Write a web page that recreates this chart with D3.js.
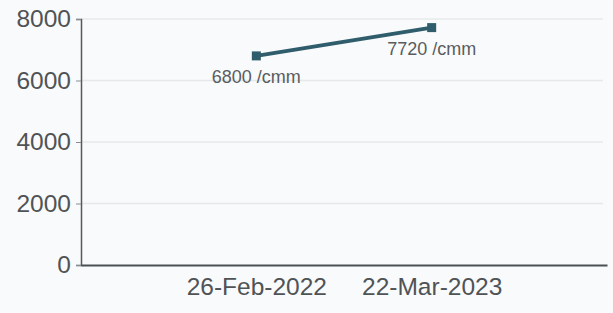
<!DOCTYPE html>
<html lang="en">
<head>
<meta charset="UTF-8">
<script src="https://d3js.org/d3.v7.min.js"></script>
<style>
  html, body { margin: 0; padding: 0; background: #f9fafb; }
  svg { display: block; font-family: "Liberation Sans", Arial, sans-serif; }
</style>
</head>
<body>
<div id="chart"></div>
<script>
// values
var dates = ["26-Feb-2022", "22-Mar-2023"];
var counts = [6800, 7720];
var pointLabels = ["6800 /cmm", "7720 /cmm"];
var yTicks = [0, 2000, 4000, 6000, 8000];

var W = 613, H = 313;
var margin = {left: 81, right: 607, top: 19, bottom: 265};

var svg = d3.select("#chart").append("svg")
  .attr("width", W)
  .attr("height", H);

var x = d3.scalePoint()
  .domain(dates)
  .range([margin.left, margin.right])
  .padding(1);

var y = d3.scaleLinear()
  .domain([0, 8000])
  .range([margin.bottom, margin.top]);

// faint gridlines
svg.append("g")
  .selectAll("line")
  .data(yTicks.filter(function(d) { return d > 0; }))
  .enter()
  .append("line")
  .attr("x1", margin.left)
  .attr("x2", margin.right - 4)
  .attr("y1", function(d) { return y(d); })
  .attr("y2", function(d) { return y(d); })
  .attr("stroke", "#e6e8ea")
  .attr("stroke-width", 1.5);

// y axis
var yAxis = svg.append("g")
  .attr("transform", "translate(" + margin.left + ",0)")
  .call(d3.axisLeft(y).tickValues(yTicks).tickSize(5).tickPadding(5).tickFormat(d3.format("d")));
yAxis.select(".domain").attr("stroke", "#55595c").attr("stroke-width", 1.5);
yAxis.selectAll(".tick line").attr("stroke", "#8a8d90");
yAxis.selectAll("text")
  .attr("fill", "#505356")
  .style("font-size", "24.5px")
  .style("font-family", "'Liberation Sans', Arial, sans-serif");

// x axis
var xAxis = svg.append("g")
  .attr("transform", "translate(0," + margin.bottom + ")")
  .call(d3.axisBottom(x).tickSize(0).tickPadding(13));
xAxis.select(".domain").attr("stroke", "#4a4f53").attr("stroke-width", 2);
xAxis.selectAll("text")
  .attr("fill", "#505356")
  .style("font-size", "24.5px")
  .style("font-family", "'Liberation Sans', Arial, sans-serif");

var pts = dates.map(function(d, i) { return { date: d, value: counts[i], label: pointLabels[i] }; });

// series line
svg.append("path")
  .datum(pts)
  .attr("fill", "none")
  .attr("stroke", "#2f5d6c")
  .attr("stroke-width", 4)
  .attr("d", d3.line()
    .x(function(d) { return x(d.date); })
    .y(function(d) { return y(d.value); }));

// square markers
svg.selectAll("rect.marker")
  .data(pts)
  .enter()
  .append("rect")
  .attr("class", "marker")
  .attr("x", function(d) { return x(d.date) - 4.5; })
  .attr("y", function(d) { return y(d.value) - 4.5; })
  .attr("width", 9)
  .attr("height", 9)
  .attr("fill", "#2f5d6c");

// data labels under each point
svg.selectAll("text.lbl")
  .data(pts)
  .enter()
  .append("text")
  .attr("class", "lbl")
  .attr("x", function(d) { return x(d.date); })
  .attr("y", function(d) { return y(d.value) + 27; })
  .attr("text-anchor", "middle")
  .attr("fill", "#5a5d60")
  .style("font-size", "18px")
  .text(function(d) { return d.label; });
</script>
</body>
</html>
